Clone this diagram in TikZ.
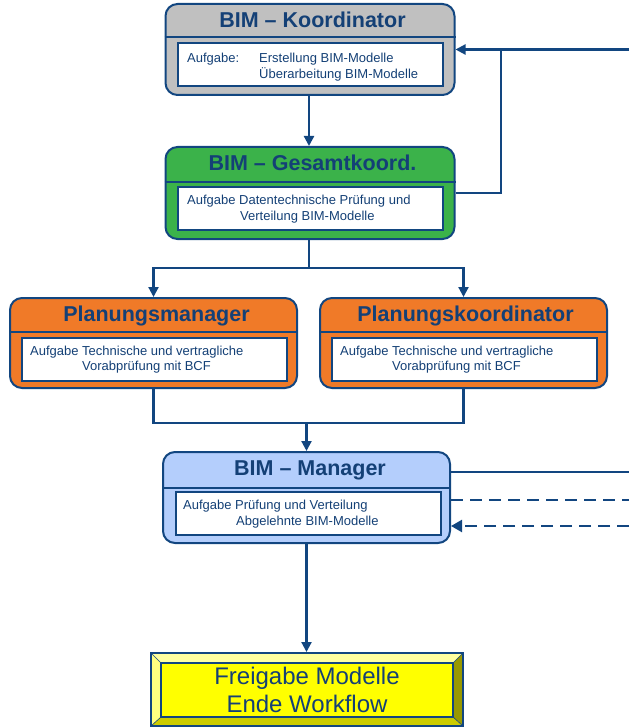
\documentclass[tikz,border=0pt]{standalone}
\usepackage{fontspec}
\setmainfont{Liberation Sans}
\usetikzlibrary{arrows.meta}
\definecolor{lineblue}{RGB}{18,70,128}
\definecolor{titleblue}{RGB}{20,64,118}
\definecolor{boxgray}{RGB}{192,192,192}
\definecolor{boxgreen}{RGB}{59,178,74}
\definecolor{boxorange}{RGB}{240,122,40}
\definecolor{boxlight}{RGB}{180,206,252}
\definecolor{endyellow}{RGB}{255,255,0}
\definecolor{bevelleft}{RGB}{255,255,128}
\definecolor{beveltop}{RGB}{255,255,160}
\definecolor{bevelbottom}{RGB}{204,204,0}
\definecolor{bevelright}{RGB}{153,153,0}
\begin{document}
\begin{tikzpicture}[x=1pt,y=-1pt,
  outerbox/.style={draw=lineblue, line width=2pt, rounded corners=12pt, inner sep=0pt, minimum width=289pt, minimum height=91pt},
  innerbox/.style={draw=lineblue, line width=2pt, fill=white, inner sep=0pt, minimum width=265pt, minimum height=43pt},
  divider/.style={draw=lineblue, line width=1.3pt},
  titletext/.style={font=\fontsize{21.5}{25}\selectfont\bfseries, text=titleblue, anchor=base, inner sep=0pt},
  tasktext/.style={font=\fontsize{13}{15.5}\selectfont, text=titleblue, anchor=west, align=left, inner sep=0pt},
  conn/.style={draw=lineblue, line width=2.2pt},
  arr/.style={conn, -{Triangle[length=10pt,width=10pt]}},
  dashconn/.style={conn, dash pattern=on 12pt off 7pt}
]
\useasboundingbox (0,0) rectangle (629,727);

% --- BIM-Koordinator
\node[outerbox, fill=boxgray] (k) at (310,49.5) {};
\draw[divider] (k.west |- 0,37) -- (k.east |- 0,37);
\node[innerbox] (ki) at (310.5,65) {};
\node[titletext] (kt) at (312.5,27.3) {BIM – Koordinator};
\node[tasktext] (kx) at (187,67) {\makebox[72pt][l]{Aufgabe:}Erstellung BIM-Modelle\\\hspace*{72pt}Überarbeitung BIM-Modelle};

% --- BIM-Gesamtkoordinator
\node[outerbox, fill=boxgreen, minimum height=92pt] (g) at (310,193) {};
\draw[divider] (g.west |- 0,182) -- (g.east |- 0,182);
\node[innerbox] (gi) at (310.5,208.5) {};
\node[titletext] (gt) at (312.5,170.7) {BIM – Gesamtkoord.};
\node[tasktext] (gx) at (187,209) {Aufgabe Datentechnische Prüfung und\\\hspace*{53pt}Verteilung BIM-Modelle};

% --- Planungsmanager
\node[outerbox, fill=boxorange, minimum width=287pt, minimum height=90pt] (pm) at (153.5,343) {};
\draw[divider] (pm.west |- 0,332) -- (pm.east |- 0,332);
\node[innerbox] (pmi) at (154.5,359.5) {};
\node[titletext] (pmt) at (156.5,321.7) {Planungsmanager};
\node[tasktext] (pmx) at (30,359.5) {Aufgabe Technische und vertragliche\\\hspace*{52pt}Vorabprüfung mit BCF};

% --- Planungskoordinator
\node[outerbox, fill=boxorange, minimum width=287pt, minimum height=90pt] (pk) at (463.5,343) {};
\draw[divider] (pk.west |- 0,332) -- (pk.east |- 0,332);
\node[innerbox] (pki) at (464.5,359.5) {};
\node[titletext] (pkt) at (465.5,321.7) {Planungskoordinator};
\node[tasktext] (pkx) at (340,359.5) {Aufgabe Technische und vertragliche\\\hspace*{52pt}Vorabprüfung mit BCF};

% --- BIM-Manager
\node[outerbox, fill=boxlight, minimum width=287pt] (m) at (306.5,497.5) {};
\draw[divider] (m.west |- 0,488) -- (m.east |- 0,488);
\node[innerbox] (mi) at (308.5,513.5) {};
\node[titletext] (mt) at (310,475.7) {BIM – Manager};
\node[tasktext] (mx) at (183,514) {Aufgabe Prüfung und Verteilung\\\hspace*{53pt}Abgelehnte BIM-Modelle};

% --- Freigabe: bevelled end box
\fill[bevelleft] (151,653) -- (161,663) -- (161,717) -- (151,726) -- cycle;
\fill[beveltop] (151,653) -- (463,653) -- (453,663) -- (161,663) -- cycle;
\fill[bevelright] (463,653) -- (463,726) -- (453,717) -- (453,663) -- cycle;
\fill[bevelbottom] (151,726) -- (463,726) -- (453,717) -- (161,717) -- cycle;
\draw[lineblue, line width=0.6pt] (151,653) -- (161,663) (463,653) -- (453,663)
  (151,726) -- (161,717) (463,726) -- (453,717);
\draw[lineblue, line width=1.6pt, fill=endyellow] (161,663) rectangle (453,717);
\node[draw=lineblue, line width=2pt, inner sep=0pt, minimum width=312pt, minimum height=73pt] (f) at (307,689.5) {};
\node[font=\fontsize{24}{28}\selectfont, text=titleblue, align=center, inner sep=0pt] (fx) at (307,690) {Freigabe Modelle\\Ende Workflow};

% --- connectors
\coordinate (rk) at (629,49.5);
\coordinate (split) at (309,268);
\coordinate (join) at (306.5,423);
\coordinate (rm1) at (629,472);
\coordinate (rm2) at (629,500);
\coordinate (rm3) at (629,526);

\draw[arr] (k.south -| 309,0) -- (g.north -| 309,0);
\draw[arr] (rk) -- (k.east);
\draw[conn] (g.east) -| (501,49.5);
\draw[conn] (g.south -| split) -- (split);
\draw[arr] (split) -| (pm.north);
\draw[arr] (split) -| (pk.north);
\draw[conn] (pm.south) |- (join);
\draw[conn] (pk.south) |- (join);
\draw[arr] (join) -- (m.north);
\draw[conn] (m.east |- rm1) -- (rm1);
\draw[dashconn] (m.east |- rm2) -- (rm2);
\draw[dashconn, -{Triangle[length=11pt,width=12pt]}] (rm3) -- (m.east |- rm3);
\draw[arr] (m.south) -- (f.north -| m.south);
\end{tikzpicture}
\end{document}
